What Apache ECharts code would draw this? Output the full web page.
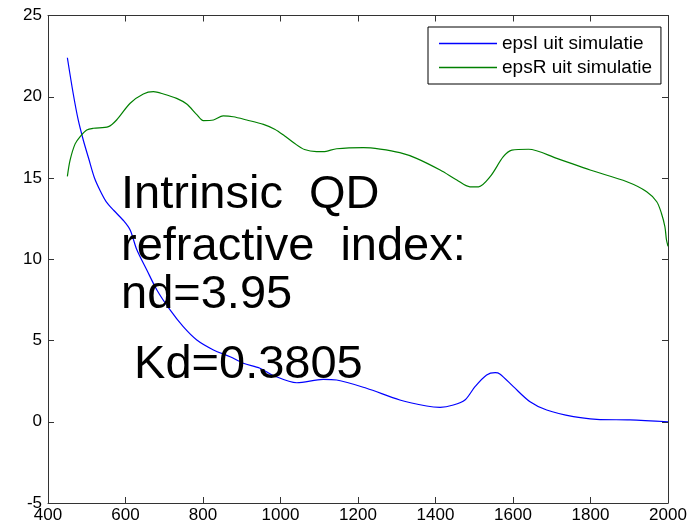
<!DOCTYPE html>
<html>
<head>
<meta charset="utf-8">
<script src="https://cdn.jsdelivr.net/npm/echarts@6/dist/echarts.min.js"></script>
<style>
  html, body { margin: 0; padding: 0; background: #fff; }
  #chart { width: 698px; height: 530px; }
</style>
</head>
<body>
<div id="chart"></div>
<script>
// Wavelength (nm) and permittivity samples for each simulated curve
const epsIWavelength = [450, 465, 478, 491, 505, 520, 535, 550, 570, 594, 612, 629, 655, 681, 715, 749, 784, 827, 870, 904, 947, 981, 1042, 1110, 1145, 1222, 1308, 1377, 1412, 1446, 1476, 1502, 1532, 1554, 1566, 1601, 1644, 1687, 1756, 1816, 1902, 2000];
const epsIValues     = [22.4, 20.2, 18.57, 17.34, 16.2, 15.0, 14.2, 13.55, 13.0, 12.4, 11.8, 10.6, 9.34, 8.11, 6.88, 5.85, 5.03, 4.42, 4.0, 3.6, 3.29, 2.85, 2.4, 2.61, 2.57, 2.06, 1.34, 0.97, 0.89, 1.03, 1.34, 2.16, 2.88, 3.02, 2.94, 2.16, 1.23, 0.72, 0.31, 0.15, 0.11, 0.0];

const epsRWavelength = [450, 457, 470, 483, 500, 517, 556, 577, 612, 646, 672, 698, 732, 758, 784, 801, 827, 852, 878, 913, 956, 985, 1010, 1035, 1062, 1093, 1110, 1145, 1214, 1257, 1308, 1351, 1412, 1455, 1489, 1511, 1541, 1575, 1597, 1640, 1713, 1799, 1894, 1945, 1971, 1983, 1992, 1996, 2000];
const epsRValues     = [15.1, 16.1, 17.1, 17.55, 17.95, 18.06, 18.16, 18.57, 19.6, 20.17, 20.31, 20.17, 19.9, 19.55, 18.9, 18.53, 18.57, 18.82, 18.77, 18.57, 18.3, 18.0, 17.6, 17.15, 16.75, 16.62, 16.62, 16.8, 16.87, 16.78, 16.56, 16.21, 15.49, 14.88, 14.46, 14.46, 15.08, 16.31, 16.72, 16.77, 16.21, 15.49, 14.77, 14.16, 13.54, 12.83, 12.0, 11.2, 10.8];

const seriesNames = ['epsI uit simulatie', 'epsR uit simulatie'];
const annotationLines = ['Intrinsic  QD', 'refractive  index:', 'nd=3.95', ' Kd=0.3805'];

const xTicks = { min: 400, max: 2000, interval: 200 };
const yTicks = { min: -5, max: 25, interval: 5 };

const zip = (xs, ys) => xs.map((x, i) => [x, ys[i]]);

const FONT = '"Liberation Sans", Arial, Helvetica, sans-serif';
const AXIS_COLOR = '#333';

const chart = echarts.init(document.getElementById('chart'), null, { renderer: 'canvas' });

const baseX = {
  type: 'value', min: xTicks.min, max: xTicks.max, interval: xTicks.interval,
  axisLine: { show: true, onZero: false, lineStyle: { color: AXIS_COLOR, width: 1 } },
  axisTick: { show: true, inside: true, length: 6, lineStyle: { color: AXIS_COLOR } },
  splitLine: { show: false }
};
const baseY = {
  type: 'value', min: yTicks.min, max: yTicks.max, interval: yTicks.interval,
  axisLine: { show: true, onZero: false, lineStyle: { color: AXIS_COLOR, width: 1 } },
  axisTick: { show: true, inside: true, length: 6, lineStyle: { color: AXIS_COLOR } },
  splitLine: { show: false }
};

// vertical positions of the annotation rows
const annotationTop = [172, 224, 272, 342];

chart.setOption({
  animation: false,
  backgroundColor: '#fff',
  grid: { left: 48, top: 15.5, right: 30, bottom: 27, containLabel: false },
  xAxis: [
    Object.assign({}, baseX, {
      position: 'bottom',
      axisLabel: { show: true, margin: 4, color: '#000', fontSize: 17, fontFamily: FONT,
                   formatter: v => String(v) }
    }),
    Object.assign({}, baseX, { position: 'top', axisLabel: { show: false } })
  ],
  yAxis: [
    Object.assign({}, baseY, {
      position: 'left',
      axisLabel: { show: true, margin: 6, color: '#000', fontSize: 17, fontFamily: FONT,
                   formatter: v => String(v) }
    }),
    Object.assign({}, baseY, { position: 'right', axisLabel: { show: false } })
  ],
  legend: {
    show: true,
    orient: 'vertical',
    left: 428, top: 27,
    padding: [7, 9, 7, 11],
    icon: 'rect',
    itemWidth: 58, itemHeight: 1.5, itemGap: 5,
    backgroundColor: '#fff',
    borderColor: '#000', borderWidth: 1,
    textStyle: { color: '#000', fontSize: 19, fontFamily: FONT, lineHeight: 18 },
    data: seriesNames
  },
  series: [
    {
      name: seriesNames[0], type: 'line', xAxisIndex: 0, yAxisIndex: 0,
      data: zip(epsIWavelength, epsIValues),
      showSymbol: false, symbol: 'none', smooth: 0.3,
      lineStyle: { color: '#0000ff', width: 1.2 },
      itemStyle: { color: '#0000ff' }
    },
    {
      name: seriesNames[1], type: 'line', xAxisIndex: 0, yAxisIndex: 0,
      data: zip(epsRWavelength, epsRValues),
      showSymbol: false, symbol: 'none', smooth: 0.3,
      lineStyle: { color: '#008000', width: 1.2 },
      itemStyle: { color: '#008000' }
    }
  ],
  graphic: annotationLines.map((line, i) => ({
    type: 'text',
    left: 121,
    top: annotationTop[i],
    z: 100,
    style: {
      text: line,
      fill: '#000',
      font: '47px ' + FONT
    }
  }))
});
</script>
</body>
</html>
